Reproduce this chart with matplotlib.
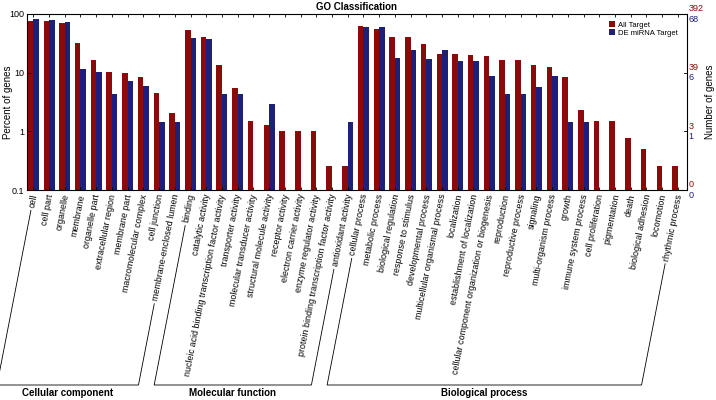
import numpy as np
import matplotlib
matplotlib.use("Agg")
import matplotlib.pyplot as plt
from matplotlib.lines import Line2D

plt.rcParams['font.family'] = ['Liberation Sans Narrow', 'Liberation Sans', 'DejaVu Sans']

RED = '#8b0a0a'
BLUE = '#1e1f78'

# GO terms, grouped
cellular_component = ["cell", "cell part", "organelle", "membrane", "organelle part",
                      "extracellular region", "membrane part", "macromolecular complex",
                      "cell junction", "membrane-enclosed lumen"]
molecular_function = ["binding", "catalytic activity",
                      "nucleic acid binding transcription factor activity",
                      "transporter activity", "molecular transducer activity",
                      "structural molecule activity", "receptor activity",
                      "electron carrier activity", "enzyme regulator activity",
                      "protein binding transcription factor activity", "antioxidant activity"]
biological_process = ["cellular process", "metabolic process", "biological regulation",
                      "response to stimulus", "developmental process",
                      "multicellular organismal process", "localization",
                      "establishment of localization",
                      "cellular component organization or biogenesis", "reproduction",
                      "reproductive process", "signaling", "multi-organism process", "growth",
                      "immune system process", "cell proliferation", "pigmentation", "death",
                      "biological adhesion", "locomotion", "rhythmic process"]
group_names = ["Cellular component", "Molecular function", "Biological process"]

# percent of genes (0 = no bar)
all_target = [77, 77, 69, 31.6, 16.4, 10.4, 9.9, 8.3, 4.5, 2.03,
              52.6, 41, 13.7, 5.55, 1.52, 1.27, 1.0, 1.0, 1.0, 0.26, 0.26,
              62.4, 56.2, 41, 40.5, 30.8, 20.8, 20.8, 20.0, 19.5, 16.2, 16.2,
              13.3, 12.5, 8.5, 2.28, 1.5, 1.5, 0.77, 0.5, 0.26, 0.26]
de_target = [81, 80, 73, 11.5, 10.3, 4.38, 7.3, 5.85, 1.46, 1.46,
             39.5, 37.9, 4.38, 4.38, 0, 2.88, 0, 0, 0, 0, 1.46,
             60, 59.3, 17.5, 24.6, 17.3, 24.6, 16.0, 16.0, 8.77, 4.38, 4.38,
             5.77, 8.77, 1.46, 1.46, 0, 0, 0, 0, 0, 0]

y_ticks = [0.1, 1, 10, 100]
y_ticklabels = ["0.1", "1", "10", "100"]
all_counts = ["0", "3", "39", "392"]
de_counts = ["0", "1", "6", "68"]

groups = [cellular_component, molecular_function, biological_process]
terms = cellular_component + molecular_function + biological_process
x = np.arange(len(terms))
w = 0.35
angle = 79
lab_size = 6.4

fig = plt.figure(figsize=(7.16, 4.0), dpi=100)
ax = fig.add_axes([27 / 716, 1 - 190 / 400, 660 / 716, 176 / 400])

red_vals = np.array(all_target, dtype=float)
blue_vals = np.array(de_target, dtype=float)
ax.bar(x - w / 2, np.where(red_vals > 0, red_vals, np.nan), w, bottom=0, color=RED,
       label="All Target")
ax.bar(x + w / 2, np.where(blue_vals > 0, blue_vals, np.nan), w, bottom=0, color=BLUE,
       label="DE miRNA Target")

ax.set_yscale('log')
ax.set_ylim(0.1, 100)
ax.set_xlim(-0.4, len(terms) - 0.42)
ax.set_yticks(y_ticks)
ax.set_yticklabels(y_ticklabels, fontsize=6.5)
ax.minorticks_off()
ax.tick_params(axis='y', direction='in', length=3, pad=2, width=0.6)
ax.set_xticks(x)
ax.set_xticklabels([])
ax.tick_params(axis='x', direction='in', length=2, top=True, width=0.6)
for s in ax.spines.values():
    s.set_linewidth(0.8)

fig.text(8 / 716, 1 - 102 / 400, "Percent of genes", rotation=90, fontsize=7,
         ha='center', va='center')
ax.set_title("GO Classification", fontsize=7, fontweight='bold', pad=3)

# right-hand gene counts
for yt, a, d in zip(y_ticks, all_counts, de_counts):
    ax.annotate(a, (1, yt), xycoords=('axes fraction', 'data'), xytext=(1, 0.5),
                textcoords='offset points', color=RED, fontsize=6.5, va='bottom', ha='left')
    ax.annotate(d, (1, yt), xycoords=('axes fraction', 'data'), xytext=(1, -0.5),
                textcoords='offset points', color=BLUE, fontsize=6.5, va='top', ha='left')
    ax.plot([1, 0.996], [yt, yt], transform=ax.get_yaxis_transform(), color='k', lw=0.6,
            clip_on=False)
fig.text(710 / 716, 1 - 102 / 400, "Number of genes", rotation=90, fontsize=7,
         ha='center', va='center')

ax.legend(loc='upper right', bbox_to_anchor=(0.993, 0.985), fontsize=5.5, frameon=False,
          handlelength=0.8, handleheight=0.8, handletextpad=0.4, labelspacing=0.05,
          borderpad=0.1)

# rotated term labels under the axis
labels = []
for i, t in enumerate(terms):
    txt = ax.annotate(t, (i, 0.1), xycoords='data', xytext=(1, -3),
                      textcoords='offset points', rotation=angle, rotation_mode='anchor',
                      ha='right', va='center', fontsize=lab_size)
    labels.append(txt)

fig.canvas.draw()
renderer = fig.canvas.get_renderer()
to_fig = fig.transFigure.inverted()
th = np.radians(angle)
font_h = lab_size * fig.dpi / 72
y_bottom = 15  # pixels from bottom
gap = 3

start = 0
for name, grp in zip(group_names, groups):
    ends = []
    for k in (start, start + len(grp) - 1):
        bb = labels[k].get_window_extent(renderer)
        sy = bb.y0 + font_h / 2 * np.cos(th)
        ax_pt = ax.transData.transform((k, 0.1))
        px = ax_pt[0] + 1
        py = ax_pt[1] - 3
        sx = px - (py - sy) / np.tan(th)
        sy -= gap * np.sin(th)
        sx -= gap * np.cos(th)
        bx = sx - (sy - y_bottom) / np.tan(th)
        p1 = to_fig.transform((sx, sy))
        p2 = to_fig.transform((bx, y_bottom))
        ends.append((p1, p2))
    (a1, a2), (b1, b2) = ends
    fig.add_artist(Line2D([a1[0], a2[0], b2[0], b1[0]], [a1[1], a2[1], b2[1], b1[1]],
                          color='k', lw=0.6))
    fig.text((a2[0] + b2[0]) / 2, 0.018, name, fontsize=7, fontweight='bold',
             ha='center', va='center')
    start += len(grp)

fig.savefig("out.png", dpi=100)
